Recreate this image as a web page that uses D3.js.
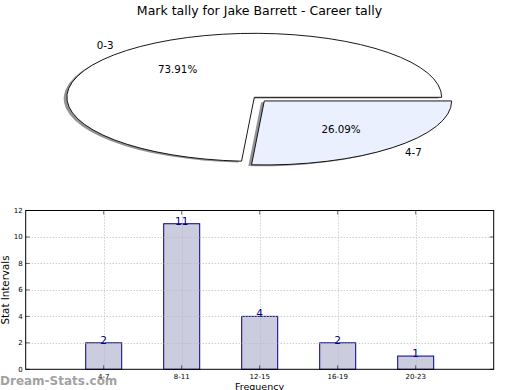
<!DOCTYPE html>
<html><head><meta charset="utf-8">
<script src="https://cdn.jsdelivr.net/npm/d3@7"></script>
<style>body{margin:0;background:#fff}svg{display:block;font-family:"DejaVu Sans",sans-serif}</style>
</head><body>
<svg id="c" width="520" height="390"></svg>
<script>
const title = "Mark tally for Jake Barrett - Career tally";
const pieLabels = ["0-3", "4-7"];
const pieValues = [17, 6];
const pieColors = ["#ffffff", "#eaf0fd"];
const pieExplode = [0, 0.078];
const barCategories = ["4-7", "8-11", "12-15", "16-19", "20-23"];
const barValues = [2, 11, 4, 2, 1];
const yTicks = [0, 2, 4, 6, 8, 10, 12];

const svg = d3.select("#c");
svg.append("rect").attr("width",520).attr("height",390).attr("fill","#fff");

// ---- Title
svg.append("text").attr("x",259.5).attr("y",15).attr("text-anchor","middle")
  .attr("font-size",12.5).attr("fill","#000").text(title);

// ---- Pie (elliptical, matplotlib-like)
const cx = 254.3, cy = 97.3, rx = 187.4, ry = 64;
const total = d3.sum(pieValues);
const pie = d3.pie().sort(null).startAngle(Math.PI/2).endAngle(Math.PI/2 - 2*Math.PI);
const arcs = pie(pieValues);
const arcGen = d3.arc().innerRadius(0).outerRadius(1);
function dirOf(a){ return [Math.sin(a), -Math.cos(a)]; }
const pg = svg.append("g");
const shadowG = pg.append("g");
const wedgeG = pg.append("g");
arcs.forEach((d,i)=>{
  const mid = (d.startAngle + d.endAngle)/2;
  const [ux, uy] = dirOf(mid);
  const ox = cx + ux*pieExplode[i]*rx, oy = cy + uy*pieExplode[i]*ry;
  const dd = {startAngle: Math.min(d.startAngle,d.endAngle), endAngle: Math.max(d.startAngle,d.endAngle)};
  shadowG.append("path").attr("d", arcGen(dd))
    .attr("transform", `translate(${ox-3.2},${oy+1.3}) scale(${rx},${ry})`)
    .attr("fill","#666").attr("fill-opacity",0.7).attr("stroke","none");
  wedgeG.append("path").attr("d", arcGen(dd))
    .attr("transform", `translate(${ox},${oy}) scale(${rx},${ry})`)
    .attr("fill", pieColors[i]).attr("stroke","#000").attr("stroke-width",0.9)
    .attr("vector-effect","non-scaling-stroke").attr("stroke-linejoin","miter");
  const lx = ox + ux*1.1*rx, ly = oy + uy*1.1*ry;
  pg.append("text").attr("x",lx).attr("y",ly).attr("dy","0.35em")
    .attr("text-anchor", ux < 0 ? "end" : "start").attr("font-size",10.3).text(pieLabels[i]);
  const px = ox + ux*0.6*rx, py = oy + uy*0.6*ry;
  pg.append("text").attr("x",px).attr("y",py).attr("dy","0.35em")
    .attr("text-anchor","middle").attr("font-size",10.3)
    .text((pieValues[i]/total*100).toFixed(2) + "%");
});

// ---- Bar chart
const L = 25.7, R = 493.7, T = 210.5, B = 369.3;
const x = d3.scaleLinear().domain([0, 6]).range([L, R]);
const y = d3.scaleLinear().domain([0, 12]).range([B, T]);
const bw = 36/78;
const bg = svg.append("g");
const gridC = "#b8b8b8";
// bars
bg.selectAll(".bar").data(barValues).join("rect")
  .attr("x",(d,i)=>x(i+1-bw/2)).attr("width",x(bw)-x(0))
  .attr("y",d=>y(d)).attr("height",d=>y(0)-y(d))
  .attr("fill","#ccccdf").attr("stroke","#000080").attr("stroke-width",1);
// grid (drawn over bars, as in reference)
bg.selectAll(".gy").data(yTicks.slice(1,-1)).join("line")
  .attr("x1",L).attr("x2",R).attr("y1",d=>Math.round(y(d))+0.5).attr("y2",d=>Math.round(y(d))+0.5)
  .attr("stroke",gridC).attr("stroke-dasharray","1,2").attr("stroke-width",1);
bg.selectAll(".gx").data(barCategories).join("line")
  .attr("x1",(d,i)=>Math.round(x(i+1))+0.5).attr("x2",(d,i)=>Math.round(x(i+1))+0.5)
  .attr("y1",T).attr("y2",B)
  .attr("stroke",gridC).attr("stroke-dasharray","1,2").attr("stroke-width",1);
// value labels
bg.selectAll(".vl").data(barValues).join("text")
  .attr("x",(d,i)=>x(i+1)).attr("y",d=>y(d)+1)
  .attr("text-anchor","middle").attr("font-size",10.5).attr("fill","#000080").text(d=>d);
// frame
bg.append("rect").attr("x",L).attr("y",T).attr("width",R-L).attr("height",B-T)
  .attr("fill","none").attr("stroke","#000").attr("stroke-width",1);
// y ticks
yTicks.forEach(t=>{
  const yy = y(t);
  bg.append("line").attr("x1",L).attr("x2",L+4).attr("y1",yy).attr("y2",yy).attr("stroke","#000").attr("stroke-width",0.6);
  bg.append("line").attr("x1",R-4).attr("x2",R).attr("y1",yy).attr("y2",yy).attr("stroke","#000").attr("stroke-width",0.6);
  bg.append("text").attr("x",L-3).attr("y",yy).attr("dy","0.35em").attr("text-anchor","end")
    .attr("font-size",7).text(t);
});
barCategories.forEach((c,i)=>{
  const xx = x(i+1);
  bg.append("line").attr("x1",xx).attr("x2",xx).attr("y1",B).attr("y2",B-4).attr("stroke","#000").attr("stroke-width",0.6);
  bg.append("line").attr("x1",xx).attr("x2",xx).attr("y1",T).attr("y2",T+4).attr("stroke","#000").attr("stroke-width",0.6);
  bg.append("text").attr("x",xx).attr("y",B+10).attr("text-anchor","middle").attr("font-size",7).text(c);
});
svg.append("text").attr("x",259.5).attr("y",389.5).attr("text-anchor","middle").attr("font-size",9.5).text("Frequency");
svg.append("text").attr("transform","translate(9,290) rotate(-90)").attr("text-anchor","middle")
  .attr("font-size",10.3).text("Stat Intervals");
// watermark
svg.append("text").attr("x",0).attr("y",385).attr("font-size",12).attr("font-weight","bold")
  .attr("fill","#888").attr("fill-opacity",0.8).text("Dream-Stats.com");
</script>
</body></html>
